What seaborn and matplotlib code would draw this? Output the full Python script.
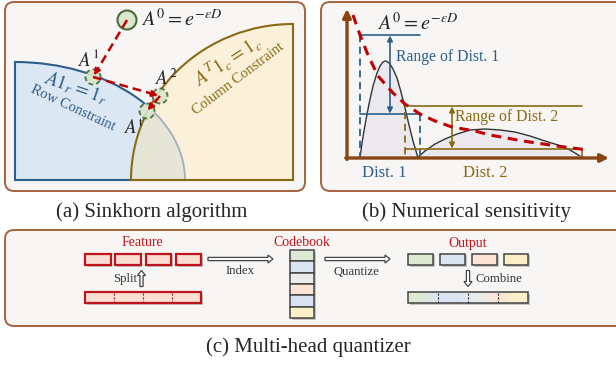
import numpy as np
import pandas as pd
import seaborn as sns
import matplotlib
matplotlib.use("Agg")
import matplotlib.pyplot as plt
from matplotlib import patches
from matplotlib.transforms import Affine2D
import matplotlib.patheffects as pe

# ---------------- data ----------------
DIST1_X = [360, 362, 365, 369, 373, 377, 380, 383, 385, 387, 390, 393, 397, 401, 405, 409, 413, 416, 418]
DIST1_Y = [158, 143, 125, 104, 86, 73, 66, 62, 61, 61.5, 64, 69, 78, 92, 108, 125, 141, 151, 158]
DIST2_X = [417, 425, 435, 445, 457, 470, 485, 500, 515, 530, 545, 558, 570, 580]
DIST2_Y = [158, 151, 144, 139, 134, 130, 129, 130, 132, 136, 141, 145, 150, 156]
EXP_X = [353, 360, 368, 378, 393, 405, 420, 435, 452, 475, 490, 523, 557, 588]
EXP_Y = [15, 35, 55, 76, 93, 104, 114, 121, 127, 131, 135, 141, 146, 150]

FEATURE_COLORS = ["#fadfd2", "#fadfd2", "#fadfd2", "#fadfd2"]
CODEBOOK_COLORS = ["#dde9d3", "#dae5f2", "#ececec", "#fbe3d6", "#d8e2f2", "#fdf0c8"]
OUTPUT_COLORS = ["#dde9d3", "#dae5f2", "#fbe3d6", "#fdf0c8"]
BAR_GRADIENT = ["#dde9d3", "#dae5f2", "#dae5f2", "#ececec", "#fbe3d6", "#fdf0c8"]

CAPTIONS = ["(a) Sinkhorn algorithm", "(b) Numerical sensitivity", "(c) Multi-head quantizer"]
DIST_LABELS = ["Dist. 1", "Dist. 2"]
RANGE_LABELS = ["Range of Dist. 1", "Range of Dist. 2"]
STEP_LABELS = ["Feature", "Codebook", "Output"]
ACTION_LABELS = ["Split", "Index", "Quantize", "Combine"]

# ---------------- style ----------------
sns.set_theme(style="white")
plt.rcParams["font.family"] = ["Liberation Serif", "DejaVu Serif"]
plt.rcParams["mathtext.fontset"] = "stix"

BG = "#f7f6f4"
FRAME = "#a5633d"
BLUE = "#2e5f8c"
OLIVE = "#8b6a14"
RED = "#c00000"
GREEN = "#4a6b36"
DARK = "#333333"

fig = plt.figure(figsize=(6.16, 3.66), dpi=100)
ax = fig.add_axes([0, 0, 1, 1])
ax.set_xlim(0, 616)
ax.set_ylim(366, 0)
ax.axis("off")
fig.patch.set_facecolor("white")

def panel(x0, y0, x1, y1):
    p = patches.FancyBboxPatch((x0, y0), x1 - x0, y1 - y0,
                               boxstyle="round,pad=0,rounding_size=9",
                               fc=BG, ec=FRAME, lw=1.4, zorder=0)
    ax.add_patch(p)

panel(5, 2, 305, 191)
panel(321, 2, 630, 191)
panel(5, 230, 630, 326)

# ---------------- panel (a) ----------------
def quarter(cx, cy, a, b, t1, t2, **kw):
    tr = Affine2D().scale(a, b).translate(cx, cy) + ax.transData
    w = patches.Wedge((0, 0), 1, t1, t2, transform=tr, **kw)
    ax.add_patch(w)
    return w

blue_w = quarter(15, 180, 170, 118, 270, 360, fc="#dce7f4", ec=BLUE, lw=1.5, zorder=1)
yel_w = quarter(293, 180, 162, 156, 180, 270, fc="#fbf1db", ec="none", zorder=2)
inter = quarter(293, 180, 162, 156, 180, 270, fc="#e5e6d7", ec="none", zorder=3)
inter.set_clip_path(blue_w)
grey_arc = quarter(15, 180, 170, 118, 270, 360, fc="none", ec="#9fb0bd", lw=1.3, zorder=4)
grey_arc.set_clip_path(yel_w)
quarter(293, 180, 162, 156, 180, 270, fc="none", ec=OLIVE, lw=1.5, zorder=5)

A0 = (127, 20)
A1 = (93, 77)
A2 = (160, 96)
At = (147, 111)

ax.add_patch(patches.Circle(A0, 9.5, fc="#d9e8cd", ec=GREEN, lw=1.5, zorder=8))
for c in (A1, A2, At):
    ax.add_patch(patches.Circle(c, 7.5, fc="#d9e8cd", ec=GREEN, lw=1.4,
                                ls=(0, (2.5, 1.5)), alpha=0.9, zorder=8))

def red_arrow(p0, p1, shrink):
    v = np.subtract(p1, p0).astype(float)
    L = np.hypot(*v)
    u = v / L
    end = np.add(p0, u * (L - shrink))
    ax.plot([p0[0], end[0] - u[0] * 4], [p0[1], end[1] - u[1] * 4], color=RED,
            lw=1.8, ls=(0, (3.5, 2)), zorder=9, solid_capstyle="butt")
    ax.annotate("", xy=end, xytext=end - u * 6,
                arrowprops=dict(arrowstyle="-|>", color=RED, lw=1.5,
                                mutation_scale=9, shrinkA=0, shrinkB=0), zorder=9)

red_arrow(A0, A1, 2)
red_arrow(A1, A2, 2)
red_arrow(A2, At, 1)

ax.text(141, 20, r"$A^0=e^{-\epsilon D}$", fontsize=14.5, va="center", ha="left", zorder=10)
ax.text(89, 59, r"$A^1$", fontsize=13.5, va="center", ha="center", zorder=10)
ax.text(167, 79, r"$A^2$", fontsize=13.5, va="center", ha="center", zorder=10)
ax.text(134, 128, r"$A^{\mathrm{t}}$", fontsize=13.5, va="center", ha="center", zorder=10)

ax.text(76, 88, r"$A1_r=1_r$", fontsize=14, color=BLUE, rotation=-19,
        va="center", ha="center", rotation_mode="anchor", zorder=10)
ax.text(73, 108, "Row Constraint", fontsize=10.5, color=BLUE, rotation=-25,
        va="center", ha="center", rotation_mode="anchor", zorder=10)
ax.text(227, 60, r"$A^T1_c=1_c$", fontsize=14, color=OLIVE, rotation=33,
        va="center", ha="center", rotation_mode="anchor", zorder=10)
ax.text(238, 79, "Column Constraint", fontsize=10.5, color=OLIVE, rotation=37,
        va="center", ha="center", rotation_mode="anchor", zorder=10)

# ---------------- panel (b) ----------------
BASE = 158
d1 = pd.DataFrame({"x": DIST1_X, "y": DIST1_Y})
d2 = pd.DataFrame({"x": DIST2_X, "y": DIST2_Y})
ex = pd.DataFrame({"x": EXP_X, "y": EXP_Y})

ax.fill_between(d1["x"], d1["y"], BASE, color="#ebe9ee", zorder=2, lw=0)
ax.fill_between(d2["x"], d2["y"], BASE, color="#ebe9ee", zorder=2, lw=0)
sns.lineplot(data=d1, x="x", y="y", ax=ax, color=DARK, lw=1.0, sort=False,
             estimator=None, zorder=3)
sns.lineplot(data=d2, x="x", y="y", ax=ax, color=DARK, lw=1.0, sort=False,
             estimator=None, zorder=3)

# range of dist 1 (blue)
ax.plot([360, 420], [35, 35], color=BLUE, lw=1.2, zorder=4)
ax.plot([360, 420], [114, 114], color=BLUE, lw=1.2, zorder=4)
ax.plot([360, 360], [35, BASE], color=BLUE, lw=1.3, ls=(0, (4, 2.5)), zorder=4)
ax.plot([420, 420], [114, BASE], color=BLUE, lw=1.3, ls=(0, (4, 2.5)), zorder=4)
ax.annotate("", xy=(390, 35.5), xytext=(390, 113.5),
            arrowprops=dict(arrowstyle="<|-|>", color=BLUE, lw=1.2, mutation_scale=8,
                            shrinkA=0, shrinkB=0), zorder=5)
ax.text(396, 57, RANGE_LABELS[0], fontsize=11.3, color=BLUE, va="center", ha="left", zorder=6)

# range of dist 2 (olive)
ax.plot([405, 582], [106, 106], color=OLIVE, lw=1.2, zorder=4)
ax.plot([405, 582], [149, 149], color=OLIVE, lw=1.2, zorder=4)
ax.plot([582, 582], [149, BASE], color=OLIVE, lw=1.2, zorder=4)
ax.plot([405, 405], [112, BASE], color=OLIVE, lw=1.3, ls=(0, (4, 2.5)), zorder=4)
ax.annotate("", xy=(452, 106.5), xytext=(452, 148.5),
            arrowprops=dict(arrowstyle="<|-|>", color=OLIVE, lw=1.2, mutation_scale=8,
                            shrinkA=0, shrinkB=0), zorder=5)
ax.text(455, 117, RANGE_LABELS[1], fontsize=11.3, color=OLIVE, va="center", ha="left", zorder=6)

sns.lineplot(data=ex, x="x", y="y", ax=ax, color=RED, lw=2.2, sort=False,
             estimator=None, zorder=7)
ax.lines[-1].set_linestyle((0, (3.2, 2.2)))

# axes arrows
AXC = "#8b4513"
ax.annotate("", xy=(347, 9), xytext=(347, 159.5),
            arrowprops=dict(arrowstyle="-|>", color=AXC, lw=2.4, mutation_scale=12,
                            shrinkA=0, shrinkB=0), zorder=8)
ax.annotate("", xy=(609, 158), xytext=(345.8, 158),
            arrowprops=dict(arrowstyle="-|>", color=AXC, lw=2.4, mutation_scale=12,
                            shrinkA=0, shrinkB=0), zorder=8)

ax.text(377, 24, r"$A^0=e^{-\epsilon D}$", fontsize=14.5, va="center", ha="left", zorder=10)
ax.text(384, 173, DIST_LABELS[0], fontsize=12, color=BLUE, va="center", ha="center")
ax.text(485, 173, DIST_LABELS[1], fontsize=12, color=OLIVE, va="center", ha="center")

# captions
ax.text(152, 212, CAPTIONS[0], fontsize=15, va="center", ha="center")
ax.text(466, 212, CAPTIONS[1], fontsize=15, va="center", ha="center")
ax.text(308, 347, CAPTIONS[2], fontsize=15, va="center", ha="center")

# ---------------- panel (c) ----------------
shadow = [pe.withSimplePatchShadow(offset=(1.2, -1.2), shadow_rgbFace="#888888", alpha=0.45)]

def box(x0, x1, y0, y1, fc, ec, lw):
    r = patches.Rectangle((x0, y0), x1 - x0, y1 - y0, fc=fc, ec=ec, lw=lw, zorder=3)
    r.set_path_effects(shadow)
    ax.add_patch(r)

FEAT_RED = "#c0141c"
feat_x = [(85, 110.5), (115, 140.5), (145.5, 171), (176, 201)]
for (x0, x1), c in zip(feat_x, FEATURE_COLORS):
    box(x0, x1, 253.5, 265, c, FEAT_RED, 1.6)
box(85, 201, 292, 303, FEATURE_COLORS[0], FEAT_RED, 1.6)
for xd in (114, 143, 172):
    ax.plot([xd, xd], [292.5, 302.5], color=FEAT_RED, lw=0.8, ls=(0, (2, 1.5)), zorder=4)

cb_y = [250 + i * 11.35 for i in range(7)]
for i, c in enumerate(CODEBOOK_COLORS):
    box(290, 314, cb_y[i], cb_y[i + 1], c, "#444444", 1.1)

out_x = [(408, 433), (440, 465), (472, 497), (504, 528)]
for (x0, x1), c in zip(out_x, OUTPUT_COLORS):
    box(x0, x1, 253.5, 265, c, "#444444", 1.1)

# gradient bar
box(408, 528, 292, 303, "white", "none", 0)
grad = np.array([[matplotlib.colors.to_rgb(c) for c in BAR_GRADIENT]])
ax.imshow(grad, extent=(408, 528, 303, 292), aspect="auto", interpolation="bilinear", zorder=4)
ax.add_patch(patches.Rectangle((408, 292), 120, 11, fc="none", ec="#444444", lw=1.1, zorder=5))
ax.set_xlim(0, 616)
ax.set_ylim(366, 0)
for xd in (438, 468, 498):
    ax.plot([xd, xd], [292.5, 302.5], color="#333333", lw=0.8, ls=(0, (2, 1.5)), zorder=6)

ax.text(142, 243, STEP_LABELS[0], fontsize=10, color=FEAT_RED, va="center", ha="center")
ax.text(302, 242, STEP_LABELS[1], fontsize=10, color=FEAT_RED, va="center", ha="center")
ax.text(468, 243, STEP_LABELS[2], fontsize=10, color=FEAT_RED, va="center", ha="center")

def hollow(x, y, dx, dy):
    a = patches.FancyArrow(x, y, dx, dy, width=3.2, head_width=8, head_length=5,
                           length_includes_head=True, fc="white", ec="#444444", lw=0.9, zorder=6)
    ax.add_patch(a)

hollow(208, 259, 65, 0)
hollow(325, 259, 65, 0)
hollow(141.5, 286.5, 0, -16)
hollow(468, 270.5, 0, 16)

ax.text(137, 279, ACTION_LABELS[0], fontsize=9.2, color=DARK, va="center", ha="right")
ax.text(240, 271, ACTION_LABELS[1], fontsize=9.2, color=DARK, va="center", ha="center")
ax.text(357, 272, ACTION_LABELS[2], fontsize=9.2, color=DARK, va="center", ha="center")
ax.text(475, 279, ACTION_LABELS[3], fontsize=9.2, color=DARK, va="center", ha="left")

fig.savefig("out.png", dpi=100)
